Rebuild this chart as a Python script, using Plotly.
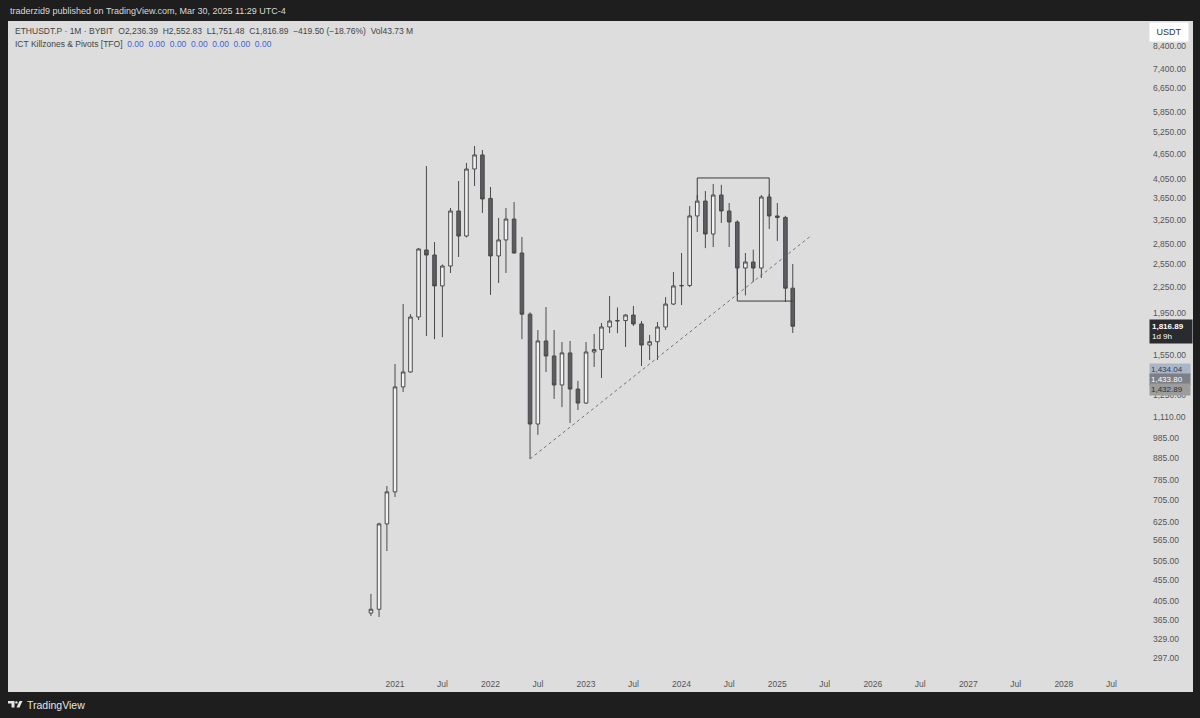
import numpy as np
import pandas as pd
import plotly.graph_objects as go

# ---------------- data ----------------
months = pd.date_range("2020-10-01", "2025-03-01", freq="MS")
opens = [380, 388, 618, 736, 1305, 1416, 1911, 2755, 2680, 2264, 2524, 3408, 2973, 4285, 4627,
         3650, 2667, 2910, 3262, 2710, 1941, 1066, 1677, 1545, 1319, 1571, 1290,
         1195, 1579, 1600, 1810, 1870, 1874, 1932, 1840, 1640, 1670, 1810, 2051,
         2264, 2270, 3317, 3598, 3006, 3718, 3408, 3209, 2497, 2580, 2497, 3679,
         3317, 3290, 2236.39]
highs = [422, 622, 760, 1479, 2051, 1941, 2783, 4355, 2877, 2545, 3464, 4014, 4430, 4860, 4754,
         3885, 3281, 3464, 3579, 2958, 1960, 1780, 2018, 1780, 1667, 1677, 1349,
         1667, 1742, 1849, 2143, 2013, 1940, 2030, 1870, 1733, 1860, 2130, 2443,
         2710, 3500, 3718, 3800, 3950, 3930, 3560, 3240, 2710, 2760, 3718, 3740,
         3560, 3320, 2552.83]
lows = [374, 372, 533, 716, 1270, 1410, 1880, 1723, 1694, 1712, 2430, 2652, 2950, 3906, 3372,
        2156, 2301, 2430, 2700, 1694, 881, 1005, 1416, 1222, 1169, 1072, 1151,
        1190, 1455, 1370, 1751, 1750, 1623, 1820, 1463, 1512, 1512, 1780, 2040,
        2040, 2250, 3040, 2783, 2800, 3192, 2800, 2156, 2150, 2313, 2364, 3090,
        2894, 2075, 1751.48]
closes = [388, 618, 736, 1305, 1416, 1911, 2770, 2680, 2264, 2524, 3408, 2973, 4285, 4627, 3639,
          2667, 2910, 3262, 2710, 1941, 1066, 1677, 1545, 1319, 1571, 1290, 1195,
          1579, 1600, 1810, 1870, 1874, 1932, 1840, 1640, 1670, 1810, 2051, 2264,
          2270, 3317, 3598, 3006, 3718, 3408, 3209, 2497, 2580, 2497, 3679, 3317,
          3290, 2236.39, 1816.89]

trend_dates = ["2022-06-01", "2025-05-04"]
trend_prices = [881, 2958]

top_box_dates = ["2024-03-01", "2024-03-01", "2024-12-01", "2024-12-01"]
top_box_prices = [3620, 4081, 4081, 3680]
bot_box_dates = ["2024-08-01", "2024-08-01", "2025-03-01"]
bot_box_prices = [2497, 2085, 2085]

y_ticks = [8400, 7400, 6650, 5850, 5250, 4650, 4050, 3650, 3250, 2850, 2550, 2250, 1950,
           1550, 1250, 1110, 985, 885, 785, 705, 625, 565, 505, 455, 405, 365, 329, 297]
x_tick_dates = ["2021-01-01", "2021-07-01", "2022-01-01", "2022-07-01", "2023-01-01", "2023-07-01",
                "2024-01-01", "2024-07-01", "2025-01-01", "2025-07-01", "2026-01-01", "2026-07-01",
                "2027-01-01", "2027-07-01", "2028-01-01", "2028-07-01"]
x_tick_text = ["2021", "Jul", "2022", "Jul", "2023", "Jul", "2024", "Jul", "2025", "Jul",
               "2026", "Jul", "2027", "Jul", "2028", "Jul"]

last_price = 1816.89
marker_prices = [1434.04, 1433.80, 1432.89]

# ---------------- geometry ----------------
L, R, T, B = 8, 1140, 21, 672
W, H = 1200, 718


def px(x):
    return (x - L) / (R - L)


def py(y):
    return (B - y) / (B - T)


FONT = "Liberation Sans"
BG = "#dddddd"
DARK = "#1e1e1e"

fig = go.Figure()
fig.add_trace(go.Candlestick(
    x=months, open=opens, high=highs, low=lows, close=closes,
    increasing=dict(fillcolor="#f2f2f2", line=dict(color="#4a4a4a", width=1)),
    decreasing=dict(fillcolor="#5c5c62", line=dict(color="#4a4a4a", width=1)),
    whiskerwidth=0, hoverinfo="skip", showlegend=False,
))
fig.add_trace(go.Scatter(x=trend_dates, y=trend_prices, mode="lines",
                         line=dict(color="#666666", width=0.9, dash="dot"),
                         hoverinfo="skip", showlegend=False))
fig.add_trace(go.Scatter(x=top_box_dates, y=top_box_prices, mode="lines",
                         line=dict(color="#3a3a3a", width=1),
                         hoverinfo="skip", showlegend=False))
fig.add_trace(go.Scatter(x=bot_box_dates, y=bot_box_prices, mode="lines",
                         line=dict(color="#3a3a3a", width=1),
                         hoverinfo="skip", showlegend=False))

start = pd.Timestamp("2021-01-01") - pd.Timedelta(days=1479)
end = pd.Timestamp("2021-01-01") + pd.Timedelta(days=2847)

fig.update_layout(
    width=W, height=H,
    margin=dict(l=L, r=W - R, t=T, b=H - B, pad=0),
    paper_bgcolor=DARK, plot_bgcolor=BG,
    font=dict(family=FONT, color="#555555", size=9),
    xaxis=dict(type="date", range=[start, end], tickvals=x_tick_dates, ticktext=x_tick_text,
               showgrid=False, zeroline=False, showline=False, ticks="",
               ticklabelstandoff=5, tickfont=dict(size=8.5, color="#555555"),
               rangeslider=dict(visible=False), fixedrange=True),
    yaxis=dict(type="log", side="right", range=[2.4401, 3.9827],
               tickvals=y_ticks, ticktext=[f"{v:,.2f}" for v in y_ticks],
               showgrid=False, zeroline=False, showline=False, ticks="",
               ticklabelstandoff=12, tickfont=dict(size=8.5, color="#555555"), fixedrange=True),
    showlegend=False,
)

# light panel behind everything
fig.add_shape(type="rect", xref="paper", yref="paper", layer="below",
              x0=px(8), x1=px(1193), y0=py(692), y1=py(21),
              fillcolor=BG, line=dict(width=0))

ann = []
# top bar
ann.append(dict(xref="paper", yref="paper", x=px(8), y=py(11), xanchor="left", yanchor="middle",
                text="traderzid9 published on TradingView.com, Mar 30, 2025 11:29 UTC-4",
                showarrow=False, font=dict(size=9, color="#d9d9d9", family=FONT)))
sp = "\u00a0\u00a0"
ann.append(dict(xref="paper", yref="paper", x=px(13), y=py(31), xanchor="left", yanchor="middle",
                text=("ETHUSDT.P · 1M · BYBIT" + sp + "O2,236.39" + sp + "H2,552.83" + sp +
                      "L1,751.48" + sp + "C1,816.89" + sp + "\u2212419.50 (\u221218.76%)" + sp + "Vol43.73\u00a0M"),
                showarrow=False, font=dict(size=8.5, color="#444444", family=FONT)))
vals = sp.join(["0.00"] * 7)
ann.append(dict(xref="paper", yref="paper", x=px(13), y=py(44), xanchor="left", yanchor="middle",
                text="ICT Killzones &amp; Pivots [TFO]" + sp + f"<span style='color:#3f63d9'>{vals}</span>",
                showarrow=False, font=dict(size=8.5, color="#444444", family=FONT)))
# USDT box
ann.append(dict(xref="paper", yref="paper", x=px(1169), y=py(32), xanchor="center", yanchor="middle",
                text="USDT", showarrow=False, bgcolor="#ffffff", borderpad=4, width=30,
                font=dict(size=9, color="#333333", family=FONT)))
# last price label
ann.append(dict(xref="paper", yref="y", x=px(1149), y=np.log10(last_price), xanchor="left",
                yanchor="middle", yshift=-5, align="left",
                text=f"<b>{last_price:,.2f}</b><br>1d 9h", showarrow=False,
                bgcolor="#2a2b2e", borderpad=2, width=38,
                font=dict(size=8, color="#ffffff", family=FONT)))
marker_styles = [("#aab6c6", "#2e3d5c"), ("#7c7f86", "#ffffff"), ("#9c9c9c", "#2f2f2f")]
for i, (v, (bgc, fc)) in enumerate(zip(marker_prices, marker_styles)):
    ann.append(dict(xref="paper", yref="y", x=px(1149), y=np.log10(marker_prices[0]),
                    yshift=-10 * i, xanchor="left", yanchor="middle", align="left",
                    text=f"{v:,.2f}", showarrow=False, bgcolor=bgc, borderpad=1, width=38,
                    font=dict(size=8, color=fc, family=FONT)))
# TradingView logo text
ann.append(dict(xref="paper", yref="paper", x=px(25), y=py(705), xanchor="left", yanchor="middle",
                text="TradingView", showarrow=False,
                font=dict(size=10.5, color="#e6e6e6", family=FONT)))
fig.update_layout(annotations=ann)

# logo glyph
def ppath(points):
    s = ""
    for i, (x, y) in enumerate(points):
        s += ("M" if i == 0 else "L") + f"{px(x):.5f},{py(y):.5f} "
    return s + "Z"

fig.add_shape(type="path", xref="paper", yref="paper",
              path=ppath([(8, 701), (14.5, 701), (14.5, 707.5), (11.5, 707.5), (11.5, 703.5), (8, 703.5)]),
              fillcolor="#e6e6e6", line=dict(width=0))
fig.add_shape(type="circle", xref="paper", yref="paper",
              x0=px(15.2), x1=px(17.6), y0=py(703.6), y1=py(701.2),
              fillcolor="#e6e6e6", line=dict(width=0))
fig.add_shape(type="path", xref="paper", yref="paper",
              path=ppath([(16.5, 707.5), (19.5, 701), (22.5, 701), (19.5, 707.5)]),
              fillcolor="#e6e6e6", line=dict(width=0))

fig.write_html("out.html", config={"displayModeBar": False},
               post_script="document.body.style.margin='0';document.body.style.background='#1e1e1e';")
